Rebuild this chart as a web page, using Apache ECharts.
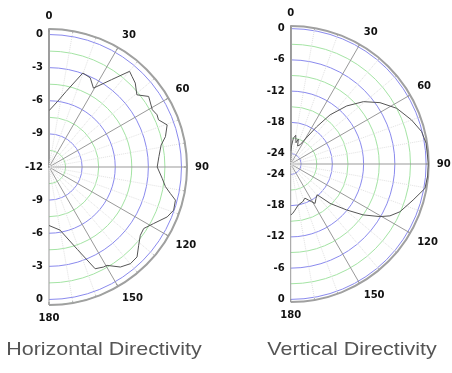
<!DOCTYPE html>
<html><head><meta charset="utf-8">
<script src="https://cdn.jsdelivr.net/npm/echarts@6/dist/echarts.min.js"></script>
<style>html,body{margin:0;padding:0;background:#fff}#c{width:452px;height:373px}</style>
</head><body><div id="c"></div>
<script>
// Horizontal directivity (angle in degrees, level in dB)
const hAngles = [0, 7.5, 12.7, 19.8, 24.8, 29.4, 35.6, 40.1, 42.5, 45.8, 50.6, 54.7, 61, 64.2, 66.7, 70.4, 75.4, 78.9, 84.6, 90, 95.7, 99.6, 102.3, 104.7, 109.1, 112.9, 118.4, 123, 126.8, 131.1, 135.6, 139.9, 144.5, 149.5, 151.4, 155.6, 161, 170.1, 180];
const hValues = [-6.9, -6.0, -5.0, -2.95, -3.1, -3.8, -2.27, -0.67, -0.87, -1.1, -1.7, -0.94, -1.3, -1.13, -1.2, -0.64, -1.1, -1.65, -2.0, -2.2, -1.7, -1.3, -0.75, -0.16, -0.05, -0.38, -1.23, -1.77, -1.67, -1.22, -0.6, -0.55, -0.87, -1.66, -1.68, -1.88, -4.1, -6.2, -6.7];
// Vertical directivity
const vAngles = [0, 3, 6, 10, 14, 17, 21, 26, 31.7, 34.9, 38.7, 44, 49.4, 55.5, 62.3, 70, 76.1, 81.3, 90, 95, 100.3, 106.4, 113.6, 117.6, 120.5, 125.1, 129.4, 135, 138.1, 139.4, 143.6, 148.3, 150.9, 153.9, 157.4, 162.3, 169.5, 174.7, 177.7, 180];
const vValues = [-23.5, -22.4, -21.0, -20.4, -21.8, -21.0, -22.3, -21.9, -19.7, -17.3, -13.9, -10.5, -7.6, -5.2, -3.0, -1.3, -0.1, 0.3, 0.45, 0.4, 0.2, -1.5, -3.1, -4.5, -6.1, -9.0, -12.1, -15.3, -17.6, -18.2, -17.8, -17.1, -17.7, -18.3, -18.9, -18.4, -18.0, -17.1, -16.5, -16.2];
// Axis ranges / ticks
const hRadius = { min: -12, max: 0.5, step: 1.5, labelStep: 3 };
const vRadius = { min: -26, max: 0.5, step: 1, labelStep: 6 };
const angleRange = { min: 0, max: 180, step: 30 };
const titles = ['Horizontal Directivity', 'Vertical Directivity'];

const FONT = 'DejaVu Sans';
const BLUE = '#8a8aee', GREEN = '#a4e4a4', T = 'rgba(0,0,0,0)';
const labelStyle = { color: '#111', fontFamily: FONT, fontSize: 10, fontWeight: 'bold' };

function mainAngle(pi) {
  return {
    polarIndex: pi, type: 'value', min: angleRange.min, max: angleRange.max, interval: angleRange.step,
    startAngle: 90, endAngle: -90, clockwise: true,
    axisLine: { show: true, lineStyle: { color: '#a0a0a0', width: 2 } },
    axisTick: { show: true, inside: true, length: 3, lineStyle: { color: '#888' } },
    minorTick: { show: true, splitNumber: 3, length: 2, lineStyle: { color: '#aaa' } },
    axisLabel: Object.assign({ margin: 8 }, labelStyle),
    splitLine: { show: true, lineStyle: { color: '#999', width: 1 } },
    minorSplitLine: { show: true, lineStyle: { color: '#e2e2e2', width: 1, type: 'dotted' } },
    z: 3
  };
}
function lowerAngle(pi) {
  return { polarIndex: pi, type: 'value', min: angleRange.min, max: angleRange.max,
    startAngle: -90, endAngle: 90, clockwise: false, show: false };
}
function isLabel(v, st) { return Math.abs(v / st - Math.round(v / st)) < 1e-6; }

const opt = {
  animation: false,
  backgroundColor: '#fff',
  polar: [
    { center: [49, 167], radius: 138 },
    { center: [49, 167], radius: 138 },
    { center: [290.7, 164], radius: 138 },
    { center: [290.7, 164], radius: 138 }
  ],
  angleAxis: [mainAngle(0), lowerAngle(1), mainAngle(2), lowerAngle(3)],
  radiusAxis: [
    { polarIndex: 0, type: 'value', min: hRadius.min, max: hRadius.max, interval: hRadius.step,
      axisLine: { lineStyle: { color: '#a0a0a0', width: 2 } }, axisTick: { show: false },
      axisLabel: Object.assign({ margin: 6, formatter: v => (v <= 0 && isLabel(v, hRadius.labelStep)) ? String(v) : '' }, labelStyle),
      splitLine: { show: true, lineStyle: { color: [BLUE, GREEN], width: 1 } } },
    { polarIndex: 1, type: 'value', min: hRadius.min, max: hRadius.max, interval: hRadius.step,
      axisLine: { show: false }, axisTick: { show: false }, splitLine: { show: false },
      axisLabel: Object.assign({ margin: -6, align: 'right', formatter: v => (v <= 0 && v > hRadius.min && isLabel(v, hRadius.labelStep)) ? String(v) : '' }, labelStyle) },
    { polarIndex: 2, type: 'value', min: vRadius.min, max: vRadius.max, interval: vRadius.step,
      axisLine: { lineStyle: { color: '#a0a0a0', width: 2 } }, axisTick: { show: false },
      axisLabel: Object.assign({ margin: 6, formatter: v => (v <= 0 && isLabel(v, vRadius.labelStep)) ? String(v) : '' }, labelStyle),
      splitLine: { show: true, lineStyle: { color: [T, T, BLUE, T, T, GREEN], width: 1 } } },
    { polarIndex: 3, type: 'value', min: vRadius.min, max: vRadius.max, interval: vRadius.step,
      axisLine: { show: false }, axisTick: { show: false }, splitLine: { show: false },
      axisLabel: Object.assign({ margin: -6, align: 'right', formatter: v => (v <= 0 && isLabel(v, vRadius.labelStep)) ? String(v) : '' }, labelStyle) }
  ],
  series: [
    { type: 'line', coordinateSystem: 'polar', polarIndex: 0, symbol: 'none', z: 10,
      lineStyle: { color: '#555', width: 1 },
      data: hAngles.map((a, i) => [hValues[i], a]) },
    { type: 'line', coordinateSystem: 'polar', polarIndex: 2, symbol: 'none', z: 10,
      lineStyle: { color: '#555', width: 1 },
      data: vAngles.map((a, i) => [vValues[i], a]) }
  ],
  graphic: [
    { type: 'text', x: 104, y: 350, scaleX: 1.16,
      style: { text: titles[0], font: '18.5px "Liberation Sans", Arial, sans-serif', fill: '#555', align: 'center', verticalAlign: 'middle' } },
    { type: 'text', x: 352, y: 350, scaleX: 1.16,
      style: { text: titles[1], font: '18.5px "Liberation Sans", Arial, sans-serif', fill: '#555', align: 'center', verticalAlign: 'middle' } }
  ]
};
echarts.init(document.getElementById('c'), null, { renderer: 'canvas' }).setOption(opt);
</script></body></html>
